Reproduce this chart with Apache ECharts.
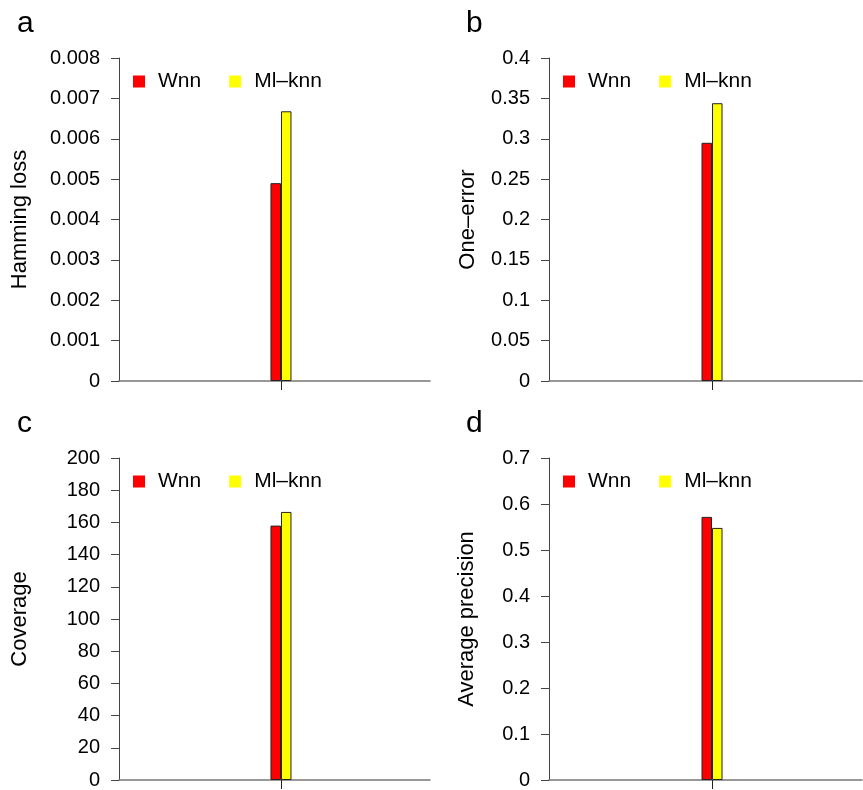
<!DOCTYPE html>
<html><head><meta charset="utf-8">
<script src="https://cdn.jsdelivr.net/npm/echarts@6/dist/echarts.min.js"></script>
<style>html,body{margin:0;padding:0;background:#fff}#c{width:863px;height:790px}</style>
</head><body><div id="c"></div>
<script>
const seriesNames = ['Wnn', 'Ml\u2013knn'];
const panelLetters = ['a', 'b', 'c', 'd'];
const yTitles = ['Hamming loss', 'One\u2013error', 'Coverage', 'Average precision'];
const wnnValues = [0.0049, 0.295, 158, 0.572];
const mlknnValues = [0.00668, 0.344, 166.5, 0.548];
const yMax = [0.008, 0.4, 200, 0.7];
const yInterval = [0.001, 0.05, 20, 0.1];
// x axis: single group position on a 0..24 scale
const xMin = 0, xMax = 24, groupX = 12.5;

const FONT = 'Liberation Sans, Arial, sans-serif';
const grids = [
  {left: 119, top: 58, width: 311, height: 323},
  {left: 549, top: 58, width: 313, height: 323},
  {left: 119, top: 458, width: 311, height: 324},
  {left: 549, top: 458, width: 313, height: 324}
];
const nameGaps = [88, 70, 88, 71];
const letterPos = [[12, 4], [461, 4], [12, 404], [461, 404]];

const option = {
  animation: false,
  backgroundColor: '#fff',
  title: panelLetters.map((t, i) => ({text: t, left: letterPos[i][0], top: letterPos[i][1],
    textStyle: {fontFamily: FONT, fontSize: 30, fontWeight: 'normal', color: '#000'}})),
  legend: grids.map((g, i) => ({
    data: seriesNames, left: g.left + 9, top: g.top + 8, orient: 'horizontal',
    itemWidth: 12, itemHeight: 12, itemGap: 28, icon: 'rect',
    textStyle: {fontFamily: FONT, fontSize: 21, color: '#000', padding: [0, 0, 0, 8]},
    itemStyle: {borderWidth: 0}
  })),
  grid: grids,
  xAxis: grids.map((g, i) => ({
    type: 'value', gridIndex: i, min: xMin, max: xMax,
    axisLine: {show: true, onZero: false, lineStyle: {color: '#777', width: 1.5}},
    axisTick: {show: true, length: 9, customValues: [groupX], lineStyle: {color: '#222'}},
    axisLabel: {show: false}, splitLine: {show: false}
  })),
  yAxis: grids.map((g, i) => ({
    type: 'value', gridIndex: i, min: 0, max: yMax[i], interval: yInterval[i],
    name: yTitles[i], nameLocation: 'middle', nameGap: nameGaps[i],
    nameTextStyle: {fontFamily: FONT, fontSize: 22, color: '#000'},
    axisLine: {show: true, lineStyle: {color: '#444'}},
    axisTick: {show: true, length: 8, lineStyle: {color: '#444'}},
    axisLabel: {fontFamily: FONT, fontSize: 20, color: '#000', margin: 19},
    splitLine: {show: false}
  })),
  series: []
};
grids.forEach((g, i) => {
  const vals = [wnnValues[i], mlknnValues[i]];
  const colors = ['#ff0000', '#ffff00'];
  seriesNames.forEach((n, k) => {
    option.series.push({
      name: n, type: 'bar', xAxisIndex: i, yAxisIndex: i,
      data: [[groupX, vals[k]]],
      barWidth: 10.5, barGap: '0%',
      itemStyle: {color: colors[k], borderColor: '#222', borderWidth: 1}
    });
  });
});
echarts.init(document.getElementById('c')).setOption(option);
</script></body></html>
